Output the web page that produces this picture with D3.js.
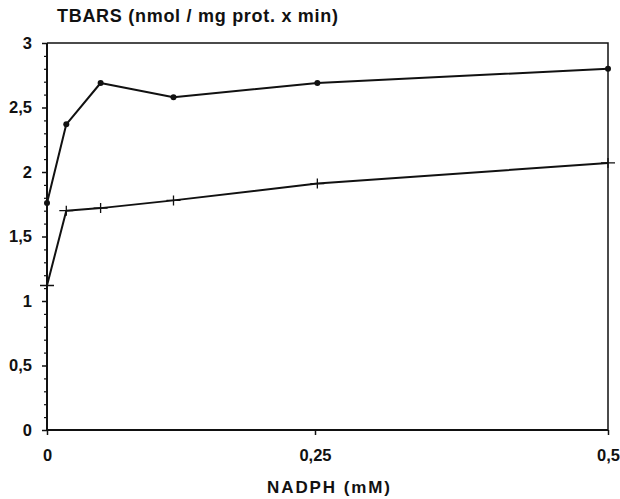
<!DOCTYPE html>
<html>
<head>
<meta charset="utf-8">
<script src="https://cdn.jsdelivr.net/npm/d3@7"></script>
<style>
  html, body { margin: 0; padding: 0; background: #fff; }
  svg { display: block; }
  text { font-family: "Liberation Sans", Arial, Helvetica, sans-serif; fill: #111; }
</style>
</head>
<body>
<svg id="chart" width="620" height="499"></svg>
<script>
// NADPH concentration (mM)
const nadph = [0, 0.018, 0.05, 0.118, 0.252, 0.5];
// TBARS production, upper curve (filled dots)
const seriesDots = [1.76, 2.37, 2.69, 2.58, 2.69, 2.80];
// TBARS production, lower curve (cross markers)
const seriesCross = [1.12, 1.70, 1.72, 1.78, 1.91, 2.07];

const xTicks = [0, 0.25, 0.5];
const xTickLabels = ["0", "0,25", "0,5"];
const yMajor = [0, 0.5, 1, 1.5, 2, 2.5, 3];
const yLabels = ["0", "0,5", "1", "1,5", "2", "2,5", "3"];

const svg = d3.select("#chart");

const x = d3.scaleLinear().domain([0, 0.25, 0.5]).range([47, 315, 608]);
const y = d3.scaleLinear().domain([0, 3]).range([430, 43]);

const ink = "#111";

// frame: top and right edges
svg.append("path")
  .attr("d", `M${x(0)},${y(3)}H${x(0.5)}V${y(0)}`)
  .attr("fill", "none").attr("stroke", ink).attr("stroke-width", 1.5);

// y axis with minor ticks every 0.1
const yMinor = d3.range(0, 31).map(i => i / 10).filter(v => !yMajor.some(m => Math.abs(m - v) < 1e-9));
const gy = svg.append("g").attr("transform", `translate(${x(0)},0)`);
gy.append("g")
  .call(d3.axisLeft(y).tickValues(yMinor).tickSize(3).tickFormat(""))
  .call(g => g.select(".domain").remove())
  .call(g => g.selectAll("line").attr("stroke", ink).attr("stroke-width", 1.2));
gy.append("g")
  .call(d3.axisLeft(y).tickValues(yMajor).tickSize(5).tickPadding(10)
    .tickFormat((d, i) => yLabels[i]))
  .call(g => g.select(".domain").attr("stroke", ink).attr("stroke-width", 2).attr("d", `M0,${y(0)}V${y(3)}`))
  .call(g => g.selectAll("line").attr("stroke", ink).attr("stroke-width", 1.5))
  .call(g => g.selectAll("text").attr("font-size", 16.5).attr("font-weight", "bold").attr("fill", ink));

// x axis
svg.append("g")
  .attr("transform", `translate(0,${y(0)})`)
  .call(d3.axisBottom(x).tickValues(xTicks).tickSize(5).tickPadding(14)
    .tickFormat((d, i) => xTickLabels[i]))
  .call(g => g.select(".domain").attr("stroke", ink).attr("stroke-width", 2).attr("d", `M${x(0)},0H${x(0.5)}`))
  .call(g => g.selectAll("line").attr("stroke", ink).attr("stroke-width", 1.5))
  .call(g => g.selectAll("text").attr("font-size", 16.5).attr("font-weight", "bold").attr("fill", ink));

// axis titles
svg.append("text").attr("x", 57).attr("y", 22)
  .attr("font-size", 18).attr("font-weight", "bold")
  .attr("textLength", 281).attr("lengthAdjust", "spacing")
  .text("TBARS (nmol / mg prot. x min)");
svg.append("text").attr("x", 267).attr("y", 493)
  .attr("font-size", 17).attr("font-weight", "bold")
  .attr("textLength", 123).attr("lengthAdjust", "spacing")
  .text("NADPH (mM)");

const line = d3.line().x(d => x(d[0])).y(d => y(d[1]));
const upper = nadph.map((v, i) => [v, seriesDots[i]]);
const lower = nadph.map((v, i) => [v, seriesCross[i]]);

svg.append("path").datum(upper).attr("d", line)
  .attr("fill", "none").attr("stroke", ink).attr("stroke-width", 2).attr("stroke-linejoin", "round");
svg.append("path").datum(lower).attr("d", line)
  .attr("fill", "none").attr("stroke", ink).attr("stroke-width", 2).attr("stroke-linejoin", "round");

svg.append("g").selectAll("circle").data(upper).join("circle")
  .attr("cx", d => x(d[0])).attr("cy", d => y(d[1])).attr("r", 3).attr("fill", ink);

const cross = svg.append("g").attr("stroke", ink).attr("stroke-width", 1.3);
cross.selectAll("path").data(lower).join("path")
  .attr("d", d => `M${x(d[0]) - 7},${y(d[1])}h14M${x(d[0])},${y(d[1]) - 5}v10`);
</script>
</body>
</html>
